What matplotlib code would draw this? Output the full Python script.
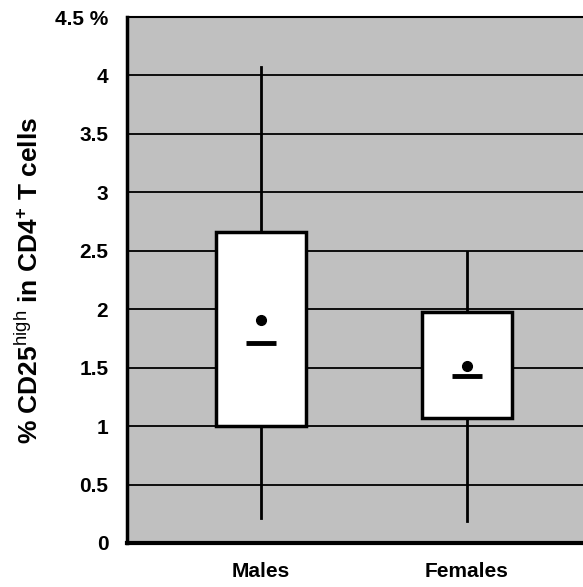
import matplotlib.pyplot as plt
import numpy as np

plt.rcParams['font.family'] = 'Liberation Sans'
plt.rcParams['mathtext.fontset'] = 'custom'
plt.rcParams['mathtext.rm'] = 'Liberation Sans'
plt.rcParams['mathtext.bf'] = 'Liberation Sans:bold'

groups = ['Males', 'Females']
whisker_low = [0.21, 0.19]
q1 = [1.00, 1.07]
median = [1.71, 1.43]
mean = [1.91, 1.51]
q3 = [2.66, 1.98]
whisker_high = [4.07, 2.49]

y_ticks = [0, 0.5, 1, 1.5, 2, 2.5, 3, 3.5, 4, 4.5]
y_tick_labels = ['0', '0.5', '1', '1.5', '2', '2.5', '3', '3.5', '4', '4.5 %']

stats = []
for i, g in enumerate(groups):
    stats.append(dict(label=g, whislo=whisker_low[i], q1=q1[i], med=median[i],
                      q3=q3[i], whishi=whisker_high[i], mean=mean[i], fliers=[]))

fig = plt.figure(figsize=(5.83, 5.87), dpi=100)
ax = fig.add_axes([0.218, 0.075, 0.782, 0.896])
ax.set_facecolor('#c0c0c0')

pos = np.arange(1, len(groups) + 1)
ax.bxp(stats, positions=pos, widths=0.437, patch_artist=True,
       showmeans=True, showcaps=False,
       boxprops=dict(facecolor='white', edgecolor='black', linewidth=2.5),
       whiskerprops=dict(color='black', linewidth=2),
       medianprops=dict(visible=False),
       meanprops=dict(marker='o', markerfacecolor='black',
                      markeredgecolor='black', markersize=7),
       zorder=3)

# short median dash inside each box
ax.hlines(median, pos - 0.072, pos + 0.072, colors='black', linewidth=3.5, zorder=4)

ax.set_xlim(0.35, 2.563)
ax.set_ylim(0, 4.5)
ax.set_yticks(y_ticks)
ax.set_yticklabels(y_tick_labels)
ax.yaxis.grid(True, color='black', linewidth=1.3)
ax.set_axisbelow(True)
ax.tick_params(length=0, labelsize=15)
ax.tick_params(axis='y', pad=13.5)
ax.tick_params(axis='x', pad=14)
for lab in ax.get_xticklabels() + ax.get_yticklabels():
    lab.set_fontweight('bold')

ax.spines['right'].set_visible(False)
ax.spines['top'].set_linewidth(1.5)
ax.spines['left'].set_linewidth(2.5)
ax.spines['bottom'].set_linewidth(3)

ax.set_ylabel(r'% CD25$^{\mathrm{high}}$ in CD4$^{\mathbf{+}}$ T cells',
              fontsize=19, fontweight='bold', labelpad=9)

fig.savefig('out.png', dpi=100)
